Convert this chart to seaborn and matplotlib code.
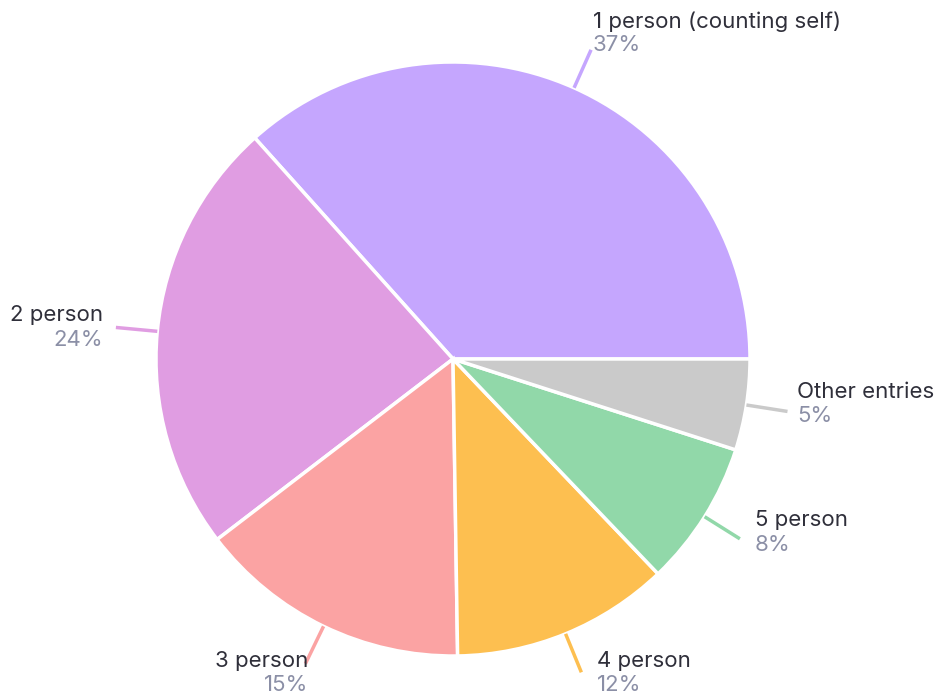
import numpy as np
import matplotlib
matplotlib.use("Agg")
import matplotlib.pyplot as plt
import seaborn as sns

# Household size shares
categories = ["1 person (counting self)", "2 person", "3 person", "4 person", "5 person", "Other entries"]
shares = [37, 24, 15, 12, 8, 5]
slice_colors = ["#C5A6FE", "#E09DE2", "#FBA3A3", "#FDBF50", "#91D8A9", "#CACACA"]

# Label block offsets from each leader-line end (pixels): dx, name dy, pct dy (downwards positive)
label_offsets = [(2, -28, -5), (-13, -12, 13), (3, -3, 21),
                 (16, -11, 13), (15, -19, 6), (10, -19, 5)]

sns.set_theme(style="white")
plt.rcParams["font.family"] = ["Inter", "DejaVu Sans"]

W, H = 945, 698
fig = plt.figure(figsize=(W / 100, H / 100), dpi=100)
ax = fig.add_axes([0, 0, 1, 1])

cx, cy, radius = 453, H - 359, 297
wedges, _ = ax.pie(shares, colors=slice_colors, startangle=0, counterclock=True,
                   center=(cx, cy), radius=radius, frame=True,
                   wedgeprops=dict(edgecolor="white", linewidth=2.5))
ax.set_xlim(0, W)
ax.set_ylim(0, H)
ax.set_aspect("equal")
ax.axis("off")

name_color = "#2f2f3a"
pct_color = "#8b8fa6"
for w, name, val, col, (dx, dyn, dyp) in zip(wedges, categories, shares, slice_colors, label_offsets):
    mid = np.deg2rad((w.theta1 + w.theta2) / 2)
    c, s = np.cos(mid), np.sin(mid)
    r0, r1 = radius * 1.0, radius * 1.14
    x0, y0 = cx + r0 * c, cy + r0 * s
    x1, y1 = cx + r1 * c, cy + r1 * s
    ax.plot([x0, x1], [y0, y1], color=col, lw=2.5, solid_capstyle="butt")
    ha = "left" if c >= 0 else "right"
    ax.text(x1 + dx, y1 - dyn, name, ha=ha, va="center", fontsize=16, color=name_color)
    ax.text(x1 + dx, y1 - dyp, f"{val}%", ha=ha, va="center", fontsize=16, color=pct_color)

fig.savefig("out.png", dpi=100, facecolor="white")
